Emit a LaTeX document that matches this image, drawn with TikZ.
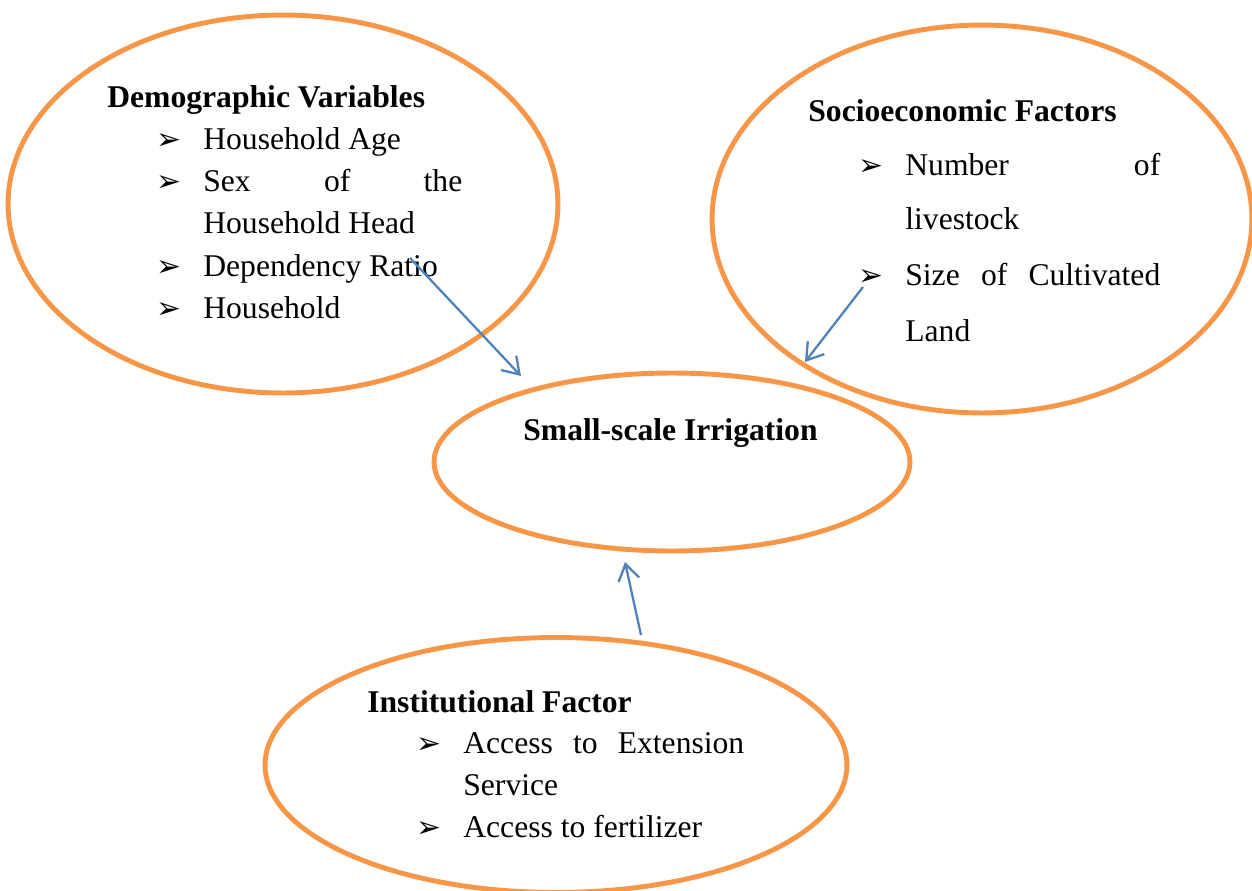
\documentclass[tikz,border=0pt]{standalone}
\usepackage{fontspec}
\setmainfont{Liberation Serif}
\newfontfamily\symfont{DejaVu Sans}
\usetikzlibrary{shapes.geometric,arrows.meta}
\definecolor{ringorange}{HTML}{F79646}
\definecolor{linkblue}{HTML}{4F81BD}
\tikzset{
  ring/.style={ellipse, draw=ringorange, line width=2.8pt, inner sep=0pt},
  txt/.style={anchor=base west, inner sep=0pt, font=\fontsize{18pt}{22pt}\selectfont},
  ttl/.style={anchor=base west, inner sep=0pt, font=\fontsize{18pt}{22pt}\selectfont\bfseries},
  bul/.style={anchor=base west, inner sep=0pt, font=\symfont\fontsize{17pt}{19pt}\selectfont},
  link/.style={draw=linkblue, line width=1.3pt, -{Straight Barb[length=0.32cm,width=0.42cm,line width=1.3pt]}}
}
\newcommand{\jline}[2]{\hbox to #1{#2}}
\begin{document}
\begin{tikzpicture}[x=0.02cm,y=-0.02cm]
\useasboundingbox (0,0) rectangle (1252,890);
\clip (0,0) rectangle (1252,890);
% ellipses
\node[ring, minimum width=11cm, minimum height=7.56cm] (demo) at (283,204) {};
\node[ring, minimum width=10.8cm, minimum height=7.76cm] (socio) at (982,219) {};
\node[ring, minimum width=9.52cm, minimum height=3.56cm] (ssi) at (672,462) {};
\node[ring, minimum width=11.64cm, minimum height=5.1cm] (inst) at (556,765) {};
% demographic
\node[ttl] (demoT) at (107,107) {Demographic Variables};
\node[bul] (db1) at (156,149) {➢};
\node[txt] (d1) at (203,149) {Household Age};
\node[bul] (db2) at (156,191) {➢};
\node[txt] (d2) at (203,191) {\jline{5.18cm}{Sex\hfil of\hfil the}};
\node[txt] (d3) at (203,233) {Household Head};
\node[bul] (db4) at (156,276) {➢};
\node[txt] (d4) at (203,276) {Dependency Ratio};
\node[bul] (db5) at (156,318) {➢};
\node[txt] (d5) at (203,318) {Household};
% socioeconomic
\node[ttl] (socioT) at (808,121) {Socioeconomic Factors};
\node[bul] (sb1) at (858,175) {➢};
\node[txt] (s1) at (905,175) {\jline{5.1cm}{Number\hfil of}};
\node[txt] (s2) at (905,229) {livestock};
\node[bul] (sb3) at (858,285) {➢};
\node[txt] (s3) at (905,285) {\jline{5.1cm}{Size\hfil of\hfil Cultivated}};
\node[txt] (s4) at (905,341) {Land};
% central
\node[ttl] (ssiT) at (523,440) {Small-scale Irrigation};
% institutional
\node[ttl] (instT) at (367,712) {Institutional Factor};
\node[bul] (ib1) at (416,753) {➢};
\node[txt] (i1) at (463,753) {\jline{5.62cm}{Access\hfil to\hfil Extension}};
\node[txt] (i2) at (463,795) {Service};
\node[bul] (ib3) at (416,837) {➢};
\node[txt] (i3) at (463,837) {Access to fertilizer};
% connector ends
\coordinate (a1s) at (410,258);
\coordinate (a1e) at (521,376);
\coordinate (a2s) at (863,287);
\coordinate (a2e) at (805,362);
\coordinate (a3s) at (641,635);
\coordinate (a3e) at (625,562);
\draw[link] (a1s) -- (a1e);
\draw[link] (a2s) -- (a2e);
\draw[link] (a3s) -- (a3e);
\end{tikzpicture}
\end{document}
